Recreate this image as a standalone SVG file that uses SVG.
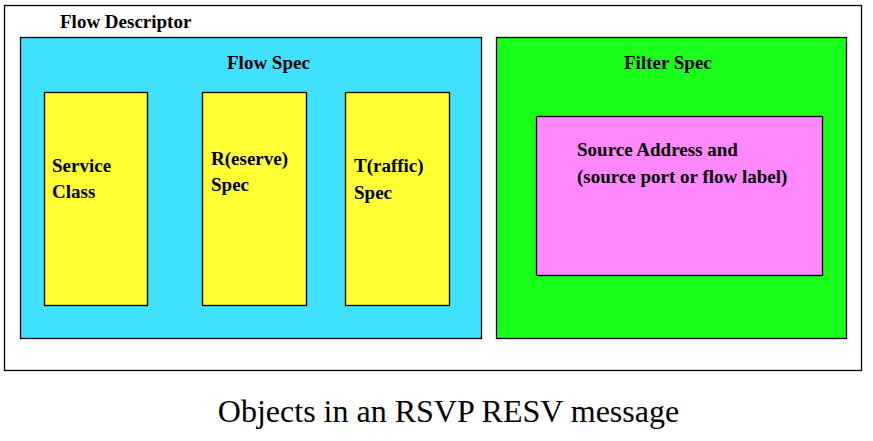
<svg xmlns="http://www.w3.org/2000/svg" width="873" height="441" viewBox="0 0 873 441">
<style>
.box{stroke:#000;stroke-width:1.3}
.b{font-family:"Liberation Serif","Times New Roman",serif;font-weight:bold;font-size:19px;fill:#000}
.cap{font-family:"Liberation Serif","Times New Roman",serif;font-size:32px;fill:#000}
</style>
<rect width="873" height="441" fill="#fff"/>
<g id="flow-descriptor">
<rect class="box" x="4.5" y="5.5" width="857" height="365" fill="#fff"/>
<text class="b" x="60" y="28">Flow Descriptor</text>
</g>
<g id="flow-spec">
<rect class="box" x="20.5" y="37.5" width="461" height="301" fill="#40e0ff"/>
<text class="b" x="227" y="69">Flow Spec</text>
</g>
<g id="service-class">
<rect class="box" x="44.5" y="92.5" width="103" height="213" fill="#ffff33"/>
<text class="b" x="52" y="172">Service</text>
<text class="b" x="52" y="198">Class</text>
</g>
<g id="reserve-spec">
<rect class="box" x="202.5" y="92.5" width="104" height="213" fill="#ffff33"/>
<text class="b" x="211" y="165">R(eserve)</text>
<text class="b" x="211" y="191">Spec</text>
</g>
<g id="traffic-spec">
<rect class="box" x="345.5" y="92.5" width="104" height="213" fill="#ffff33"/>
<text class="b" x="354" y="172">T(raffic)</text>
<text class="b" x="354" y="199">Spec</text>
</g>
<g id="filter-spec">
<rect class="box" x="496.5" y="37.5" width="350" height="301" fill="#1aff1a"/>
<text class="b" x="624" y="69">Filter Spec</text>
</g>
<g id="source-address">
<rect class="box" x="536.5" y="116.5" width="286" height="159" fill="#ff88ff"/>
<text class="b" x="577" y="156">Source Address and</text>
<text class="b" x="577" y="183">(source port or flow label)</text>
</g>
<g id="connectors"></g>
<text class="cap" x="448.5" y="422" text-anchor="middle">Objects in an RSVP RESV message</text>
</svg>
